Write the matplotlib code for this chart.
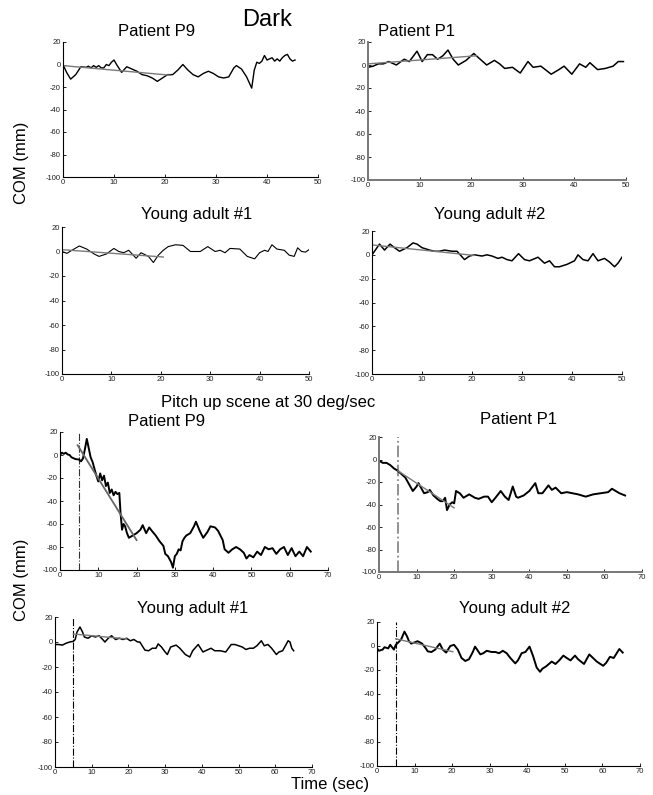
import matplotlib
matplotlib.use("Agg")
import matplotlib.pyplot as plt

plt.rcParams['font.family'] = ['Liberation Sans', 'DejaVu Sans']
plt.rcParams['axes.unicode_minus'] = False

W, H = 653, 795

# ---- Dark condition ----
dark_p9_t = [0, 0.7, 1.5, 2.5, 3.5, 4.5, 5, 5.5, 6, 6.5, 7, 7.5, 8, 8.5, 9, 9.5, 10, 10.5,
             11.5, 12.5, 13.5, 14.5, 15.5, 16.5, 17.5, 18.5, 19.5, 20.5, 21.5, 22.5, 23.5,
             24.5, 25.5, 26.5, 27.5, 28.5, 29.5, 30.5, 31.5, 32.5, 33.5, 34, 35, 36, 37,
             37.5, 38, 38.5, 39, 39.5, 40, 40.5, 41, 41.5, 42, 42.5, 43, 43.5, 44, 44.5, 45, 45.5]
dark_p9_y = [0, -7, -13, -9, -2, -2.5, -1.5, -3, -1, -2.5, -1, -3, -3, 0, -1, 2, 4, 0,
             -7, -2, -4, -6, -9, -10, -12, -15, -12, -9, -9, -5, 0,
             -5, -9, -11, -8, -6, -8, -11, -12, -11, -3, -1, -4, -11, -21,
             -5, 2, 1, 3, 8, 4, 5, 6, 3, 5, 3, 6, 8, 9, 5, 3, 4]
dark_p9_fit_t = [0, 21]
dark_p9_fit_y = [-1, -9.5]

dark_p1_t = [0, 1, 2, 3, 4, 5.5, 7, 8, 9.5, 10.5, 11.5, 12.5, 13.5, 14.5, 15.5, 16.5, 17.5,
             19, 20.5, 22, 23, 24.5, 25.5, 26.5, 28, 29.5, 31, 32, 33.5, 35.5, 37, 38, 39.5,
             41, 42.2, 43, 44.5, 46, 47.5, 48.5, 49.5]
dark_p1_y = [-2, -1, 1, 1, 3, 0, 5, 3, 12, 3, 9, 9, 5, 8, 13, 5, 0,
             4, 10, 4, 0, 4, 1, -3, -2, -7, 3, -2, -1, -8, -4, -1, -8,
             1, -2, 2, -4, -3, -1, 3, 3]
dark_p1_fit_t = [0, 21]
dark_p1_fit_y = [1, 8]

dark_ya1_t = [0, 1, 2, 3.5, 5, 6.5, 7.5, 9, 10.5, 11.5, 12.5, 13.5, 15, 16, 17.5, 18.5, 19.5,
              20.5, 21.5, 23, 24.5, 26, 28, 29.5, 31, 32, 33, 34, 36, 37.5, 39, 40, 41, 41.7,
              42.5, 43.5, 45, 46, 47, 47.7, 48.5, 49.3, 50]
dark_ya1_y = [0, -1.5, 1, 4.5, 2, -2, -4, -2, 2.5, 0, -1, 1, -5.5, -1, -4, -9, -3,
              1, 4, 5.5, 5, 0, 0, 4, 0, 1, -1, 2.5, 2, -4, -6, -1, 1, 0,
              5.5, 2, 1, -3, -4, 3, 0, -0.5, 1.5]
dark_ya1_fit_t = [0, 20.5]
dark_ya1_fit_y = [1.5, -4.5]

dark_ya2_t = [0, 0.5, 1.5, 2.5, 3.6, 4.5, 5.5, 7, 8.2, 9, 10, 11.5, 12.5, 13.5, 14.5, 16, 17,
              18.5, 19.5, 20.5, 22, 23, 24, 25.2, 26, 27, 28, 29.3, 30.5, 31.5, 33.2, 34.5,
              35.5, 36.5, 37.5, 39, 40.5, 41.2, 42.2, 43.2, 44.2, 45.2, 46.5, 47.5, 48.5, 49.2, 50]
dark_ya2_y = [0, 3, 9, 4, 9, 6, 3, 6, 10, 9, 6, 4, 3, 3, 4, 3, 3,
              -4, -1, 0, -1, 0, -1, -3, -2, -4, -5, 1, -4, -5, -2, -7,
              -5, -10, -10, -8, -5, 0, -4, -5, 1, -5, -3, -6, -10, -7, -2]
dark_ya2_fit_t = [0, 20.5]
dark_ya2_fit_y = [8.3, -0.5]

# ---- Pitch up scene at 30 deg/sec ----
pitch_p9_t = [0, 0.5, 1, 1.5, 2, 2.5, 3, 4, 5, 5.5, 6, 6.5, 7, 7.5, 8, 8.5, 9, 9.5, 10,
              10.5, 11, 11.5, 12, 12.5, 13, 13.5, 14, 14.5, 15, 15.5, 15.8, 16.2, 16.6, 17,
              17.5, 18, 19, 20, 21, 21.6, 22.5, 23.3, 24, 25, 26, 27, 27.5, 28.2, 29, 29.5,
              30, 30.5, 31, 31.5, 32, 32.5, 33, 34, 35, 35.5, 36.5, 37.4, 38.5, 39.3, 40.5,
              41.3, 42.5, 43, 44, 45, 46, 47, 48, 48.7, 49.5, 50.5, 51.5, 52.5, 53.5, 54.5,
              55.5, 56.5, 57.5, 58.5, 59.5, 60.5, 61.5, 62.5, 63.5, 64.5, 65.5]
pitch_p9_y = [0, 2, 1, 2, 0.5, 0, -2, -3.5, -4, -5.5, -3, 5, 14, 6, -2, -6, -12, -18, -23,
              -16, -22, -18, -27, -24, -33, -30, -35, -32, -34, -33, -50, -65, -60, -62,
              -68, -72, -70, -68, -65, -61, -68, -63, -66, -70, -75, -79, -86, -88, -93, -98,
              -88, -86, -82, -83, -75, -72, -70, -68, -62, -58, -66, -72, -67, -62, -63,
              -66, -74, -82, -85, -82, -80, -82, -85, -90, -87, -89, -84, -87, -80, -82,
              -81, -86, -82, -80, -87, -81, -88, -84, -88, -80, -84]
pitch_p9_fit_t = [4.6, 20]
pitch_p9_fit_y = [8.5, -74]

pitch_p1_t = [0, 1, 2, 3, 4, 5, 6, 7, 8, 9, 10, 10.5, 11, 12, 13, 13.5, 14.5, 15.5, 16.3,
              17, 17.6, 18.1, 18.8, 19.5, 20, 20.5, 21.5, 22.5, 24, 25.5, 26.5, 28, 29, 30,
              31, 32.4, 33.5, 34.5, 35.6, 36.5, 37, 38.5, 40, 41.6, 42.4, 43.5, 45.1, 46, 47,
              48.5, 50, 51.5, 53, 55, 57, 59, 61, 62, 63, 64, 65.5]
pitch_p1_y = [-1, -3, -3, -5, -8, -10, -13, -16, -22, -28, -24, -21, -24, -30, -29, -27, -32,
              -35, -37, -37, -34, -45, -40, -38, -39, -28, -30, -34, -31, -34, -35, -33, -33,
              -38, -34, -28, -33, -36, -24, -33, -34, -32, -28, -21, -30, -30, -23, -27, -25,
              -30, -29, -30, -31, -33, -31, -30, -29, -26, -28, -30, -32]
pitch_p1_fit_t = [5, 20]
pitch_p1_fit_y = [-10, -43]

pitch_ya1_t = [0, 1, 2, 3, 4, 5, 5.5, 6, 6.8, 7.5, 8, 9, 10, 11, 12, 13, 13.6, 14.5, 15.4,
               16.5, 17.5, 18.5, 19.5, 20.5, 21.5, 22.5, 23.1, 24.5, 25.5, 26.5, 27.5, 28.1,
               29, 30, 30.6, 31.5, 33, 34, 35.5, 36.7, 37.5, 39, 40.3, 41, 42.5, 43.5, 45,
               46.5, 48, 49, 50, 51, 52, 53, 54, 55, 56.2, 57, 58, 59, 60.3, 61, 62, 63.5,
               64, 64.5, 65]
pitch_ya1_y = [-2, -2, -2.5, -1, 0, 0.5, 2, 8, 12, 8, 4, 3, 5, 4, 5, 2, 0, 3, 5,
               2, 3, 2, 3, 1, 2, 0, 0, -6.5, -7, -5, -5, -1.5,
               -4, -8, -10, -4, -2.5, -5, -10, -12, -7, -2, -8, -7, -5, -7, -7,
               -8, -2, -2, -3, -4, -6, -5, -5, -3, 1, -3, -2, -5, -10, -8, -7, 1,
               0, -5, -7]
pitch_ya1_fit_t = [5, 19.5]
pitch_ya1_fit_y = [6.4, 2.5]

pitch_ya2_t = [0, 0.5, 1.5, 2, 3, 3.5, 4, 4.5, 5, 6, 6.5, 7.3, 8, 8.5, 9.1, 10, 10.8, 12, 13,
               13.5, 14.5, 15.5, 16.7, 17.5, 18.4, 19.5, 20.5, 21.5, 22.5, 23.5, 24.5, 25.5,
               26.1, 27.5, 28.3, 29.2, 30.5, 31.5, 32.5, 33.5, 34.5, 35.5, 36.8, 37.5, 38.5,
               39.5, 40.6, 41.5, 42.5, 43.4, 44, 45, 46.5, 47.5, 48.5, 49.6, 50.5, 51.5,
               52.7, 53.5, 55.1, 56.5, 57.5, 58.5, 60.2, 61, 62, 63, 64.5, 65.4]
pitch_ya2_y = [-2, -4, -3, -1, -2, 1, -1, -3, 1, 4, 6, 12, 8, 4, 2, 3, 4, 2, -2,
               -4.5, -5, -3, 2, -3, -5.5, 0, 1, -3, -10, -12.5, -11, -5,
               -0.5, -7, -6, -4, -5, -5, -6, -4, -6, -10, -14.5, -12, -6,
               -5, -0.5, -8, -18, -21.5, -19, -17, -13, -15, -12, -8, -10, -12,
               -8, -11, -15, -7, -10, -13, -16.5, -14, -9, -10, -2.5, -5.5]
pitch_ya2_fit_t = [5, 20.2]
pitch_ya2_fit_y = [6, -4.8]

stim_onset = 5
y_ticks = [-100, -80, -60, -40, -20, 0, 20]

fig = plt.figure(figsize=(W / 100, H / 100), dpi=100)


def add_panel(left, top, right, bottom, xmax, spine_color='k', spine_lw=0.8):
    ax = fig.add_axes([left / W, 1 - bottom / H, (right - left) / W, (bottom - top) / H])
    ax.set_xlim(0, xmax)
    ax.set_ylim(-100, 20)
    ax.set_xticks(range(0, xmax + 1, 10))
    ax.set_yticks(y_ticks)
    for s in ['top', 'right']:
        ax.spines[s].set_visible(False)
    for s in ['left', 'bottom']:
        ax.spines[s].set_color(spine_color)
        ax.spines[s].set_linewidth(spine_lw)
    ax.tick_params(direction='in', length=2.5, width=0.6, labelsize=5.5, pad=1.5,
                   labelcolor='#222222')
    ax.patch.set_alpha(0)
    return ax


def draw(ax, t, y, fit_t, fit_y, lw, onset=False, onset_color='k', onset_lw=0.8,
         fit_color='#7a7a7a', fit_lw=1.0):
    if onset:
        ax.axvline(stim_onset, color=onset_color, ls='-.', lw=onset_lw)
    ax.plot(t, y, color='k', lw=lw)
    ax.plot(fit_t, fit_y, color=fit_color, lw=fit_lw)


gray_spine = '#777777'

ax = add_panel(63, 42, 318, 177, 50)
draw(ax, dark_p9_t, dark_p9_y, dark_p9_fit_t, dark_p9_fit_y, 1.0)

ax = add_panel(368, 42, 626, 180, 50, gray_spine, 1.4)
draw(ax, dark_p1_t, dark_p1_y, dark_p1_fit_t, dark_p1_fit_y, 1.1)

ax = add_panel(62, 227, 309, 374, 50)
draw(ax, dark_ya1_t, dark_ya1_y, dark_ya1_fit_t, dark_ya1_fit_y, 0.8)

ax = add_panel(372, 231, 622, 374, 50)
draw(ax, dark_ya2_t, dark_ya2_y, dark_ya2_fit_t, dark_ya2_fit_y, 1.1)

ax = add_panel(60, 432, 328, 570, 70)
draw(ax, pitch_p9_t, pitch_p9_y, pitch_p9_fit_t, pitch_p9_fit_y, 1.4, True, '#333333',
     fit_color='#666666', fit_lw=1.3)

ax = add_panel(379, 437, 642, 572, 70, gray_spine, 1.4)
draw(ax, pitch_p1_t, pitch_p1_y, pitch_p1_fit_t, pitch_p1_fit_y, 1.4, True, '#888888', 1.3)

ax = add_panel(55, 617, 312, 767, 70)
draw(ax, pitch_ya1_t, pitch_ya1_y, pitch_ya1_fit_t, pitch_ya1_fit_y, 1.1, True)

ax = add_panel(377, 622, 640, 766, 70)
draw(ax, pitch_ya2_t, pitch_ya2_y, pitch_ya2_fit_t, pitch_ya2_fit_y, 1.4, True)


def label(x, y, s, size=12, **kw):
    fig.text(x / W, 1 - y / H, s, fontsize=size, ha='center', va='center', **kw)


label(267, 20, 'Dark', 17)
label(157, 31, 'Patient P9')
label(417, 31, 'Patient P1')
label(197, 214, 'Young adult #1')
label(490, 214, 'Young adult #2')
label(268, 403, 'Pitch up scene at 30 deg/sec')
label(167, 422, 'Patient P9')
label(518, 419, 'Patient P1')
label(193, 609, 'Young adult #1')
label(515, 609, 'Young adult #2')
label(22, 163, 'COM (mm)', rotation=90)
label(22, 580, 'COM (mm)', rotation=90)
label(330, 784, 'Time (sec)')

fig.savefig('out.png', dpi=100)
